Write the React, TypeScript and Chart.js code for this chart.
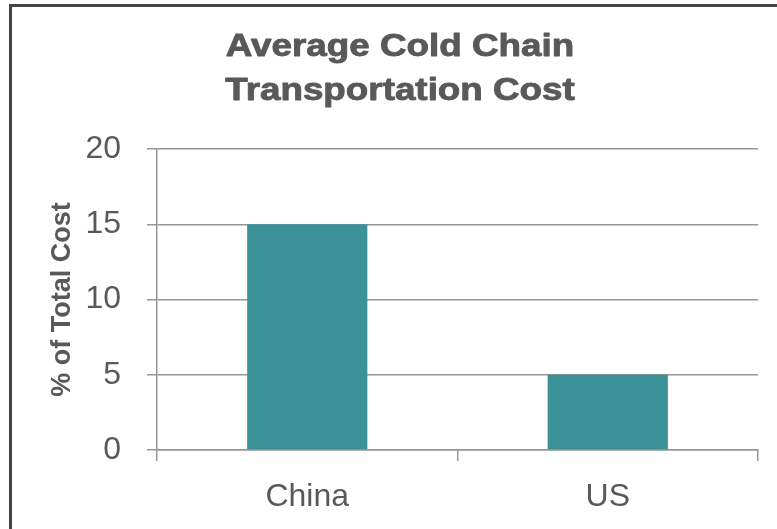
import React, { useEffect, useRef } from 'react';
import { Chart, registerables } from 'chart.js';

Chart.register(...registerables);

const categories: string[] = ['China', 'US'];
const costShare: number[] = [15, 5];
const titleLines: string[] = ['Average Cold Chain', 'Transportation Cost'];
const yAxisTitle = '% of Total Cost';
const yMin = 0;
const yMax = 20;
const yStep = 5;

const TEXT = '#595959';
const GRID = '#969696';
const BAR = '#3a9298';
const FONT = '"Liberation Sans", Arial, sans-serif';

const titlePlugin = {
  id: 'stretchedTitle',
  afterDraw(chart: any) {
    const ctx = chart.ctx as CanvasRenderingContext2D;
    ctx.save();
    ctx.font = `bold 32px ${FONT}`;
    ctx.fillStyle = TEXT;
    ctx.strokeStyle = TEXT;
    ctx.lineWidth = 0.9;
    ctx.lineJoin = 'round';
    ctx.textAlign = 'center';
    ctx.textBaseline = 'alphabetic';
    titleLines.forEach((line, i) => {
      ctx.save();
      ctx.translate(400, 56 + i * 44);
      ctx.scale(1.15, 1);
      ctx.fillText(line, 0, 0);
      ctx.strokeText(line, 0, 0);
      ctx.restore();
    });
    ctx.restore();
  },
};

export default function App() {
  const canvasRef = useRef<HTMLCanvasElement | null>(null);

  useEffect(() => {
    if (!canvasRef.current) return;
    const chart = new Chart(canvasRef.current, {
      type: 'bar',
      data: {
        labels: categories,
        datasets: [
          {
            data: costShare,
            backgroundColor: BAR,
            borderWidth: 0,
            barPercentage: 0.4,
            categoryPercentage: 1,
          },
        ],
      },
      options: {
        animation: false,
        responsive: false,
        maintainAspectRatio: false,
        layout: { padding: { top: 149, right: 19, left: 0, bottom: 0 } },
        plugins: {
          legend: { display: false },
          title: { display: false },
          tooltip: { enabled: false },
        },
        scales: {
          x: {
            offset: true,
            grid: {
              display: true,
              offset: true,
              drawOnChartArea: false,
              drawTicks: true,
              tickLength: 11,
              color: GRID,
              lineWidth: 1.5,
            },
            border: { display: true, color: GRID, width: 1.5 },
            ticks: {
              color: TEXT,
              font: { family: FONT, size: 32 },
              padding: 17,
            },
            afterFit: (scale: any) => {
              scale.height = 79;
            },
          },
          y: {
            min: yMin,
            max: yMax,
            ticks: {
              stepSize: yStep,
              color: TEXT,
              font: { family: FONT, size: 32 },
              padding: 26,
            },
            grid: {
              color: GRID,
              lineWidth: 1.5,
              drawTicks: true,
              tickLength: 10,
            },
            border: { display: true, color: GRID, width: 1.5 },
            title: {
              display: true,
              text: yAxisTitle,
              color: TEXT,
              font: { family: FONT, size: 27, weight: 'bold' },
              padding: { top: 46, bottom: 0 },
            },
            afterFit: (scale: any) => {
              scale.width = 157;
            },
          },
        },
      },
      plugins: [titlePlugin],
    });
    return () => chart.destroy();
  }, []);

  return (
    <div
      style={{
        position: 'absolute',
        left: 0,
        top: 0,
        width: 777,
        height: 529,
        overflow: 'hidden',
        background: '#ffffff',
      }}
    >
      <div
        style={{
          position: 'absolute',
          left: 9,
          top: 4,
          width: 900,
          height: 700,
          borderLeft: '3px solid #454545',
          borderTop: '3px solid #454545',
        }}
      />
      <canvas
        ref={canvasRef}
        width={777}
        height={529}
        style={{ position: 'absolute', left: 0, top: 0, width: 777, height: 529 }}
      />
    </div>
  );
}
